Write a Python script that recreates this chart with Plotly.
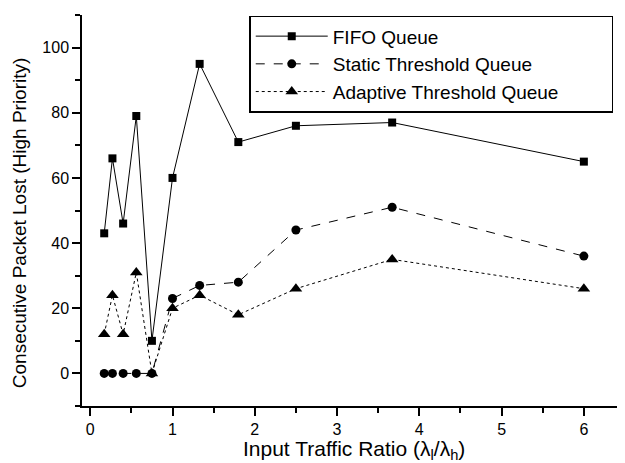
import plotly.graph_objects as go

ratio = [0.17, 0.27, 0.40, 0.56, 0.75, 1.0, 1.33, 1.8, 2.5, 3.67, 6.0]
fifo = [43, 66, 46, 79, 10, 60, 95, 71, 76, 77, 65]
static_thr = [0, 0, 0, 0, 0, 23, 27, 28, 44, 51, 36]
adaptive_thr = [12, 24, 12, 31, 0, 20, 24, 18, 26, 35, 26]
series_names = ["FIFO Queue", "Static Threshold Queue", "Adaptive Threshold Queue"]

FONT = "Liberation Sans, Arial, sans-serif"
PAD = "\u00a0" * 9  # widens the legend box to the reference's width

fig = go.Figure()
fig.add_trace(go.Scatter(x=ratio, y=fifo, mode="lines+markers", name=series_names[0],
                         line=dict(color="black", width=1, dash="solid"),
                         marker=dict(symbol="square", size=8, color="black")))
fig.add_trace(go.Scatter(x=ratio, y=static_thr, mode="lines+markers", name=series_names[1],
                         line=dict(color="black", width=1, dash="dash"),
                         marker=dict(symbol="circle", size=9, color="black")))
fig.add_trace(go.Scatter(x=ratio, y=adaptive_thr, mode="lines+markers", name=series_names[2] + PAD,
                         line=dict(color="black", width=1, dash="dot"),
                         marker=dict(symbol="triangle-up", size=11, color="black")))

axis_common = dict(showline=True, linecolor="black", linewidth=1.5, ticks="outside",
                   ticklen=8, tickwidth=1.5, tickcolor="black", showgrid=False, zeroline=False,
                   tickfont=dict(family=FONT, size=16, color="black"),
                   minor=dict(ticks="outside", ticklen=5, tickwidth=1.5, tickcolor="black"))

fig.update_layout(
    width=625, height=463,
    margin=dict(l=74, r=8, t=7, b=65, autoexpand=False),
    paper_bgcolor="white", plot_bgcolor="white",
    font=dict(family=FONT, color="black"),
    xaxis=dict(range=[-0.1, 6.5], tickvals=[0, 1, 2, 3, 4, 5, 6],
               minor_dtick=0.5, automargin=False, **axis_common),
    yaxis=dict(range=[-10, 110], tickvals=[0, 20, 40, 60, 80, 100],
               minor_dtick=10, automargin=False, **axis_common),
    showlegend=True,
    legend=dict(x=0.308, y=0.998, xanchor="left", yanchor="top",
                bgcolor="white", bordercolor="black", borderwidth=1.5,
                font=dict(family=FONT, size=19, color="black"),
                tracegroupgap=0, itemwidth=72),
    annotations=[
        dict(text="Input Traffic Ratio (λ<sub>l</sub>/λ<sub>h</sub>)", xref="paper", yref="paper",
             x=0.5, y=-0.112, xanchor="center", yanchor="middle", showarrow=False,
             font=dict(family=FONT, size=21, color="black")),
        dict(text="Consecutive Packet Lost (High Priority)", xref="paper", yref="paper",
             x=-0.115, y=0.469, xanchor="center", yanchor="middle", showarrow=False,
             textangle=-90, font=dict(family=FONT, size=19, color="black")),
    ],
)

fig.write_html("out.html")
